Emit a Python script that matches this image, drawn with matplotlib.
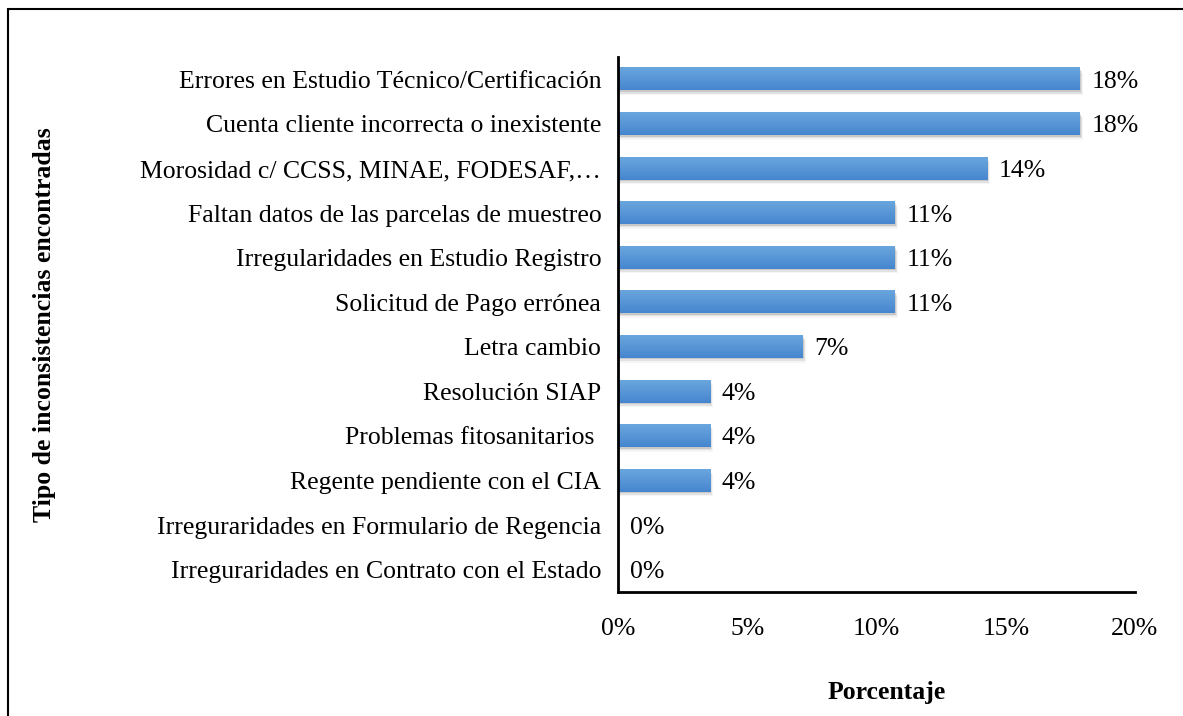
import numpy as np
import matplotlib
matplotlib.use("Agg")
import matplotlib.pyplot as plt
from matplotlib.patches import Rectangle

categories = [
    "Errores en Estudio Técnico/Certificación",
    "Cuenta cliente incorrecta o inexistente",
    "Morosidad c/ CCSS, MINAE, FODESAF,…",
    "Faltan datos de las parcelas de muestreo",
    "Irregularidades en Estudio Registro",
    "Solicitud de Pago errónea",
    "Letra cambio",
    "Resolución SIAP",
    "Problemas fitosanitarios ",
    "Regente pendiente con el CIA",
    "Irreguraridades en Formulario de Regencia",
    "Irreguraridades en Contrato con el Estado",
]
values = [17.86, 17.86, 14.29, 10.71, 10.71, 10.71, 7.14, 3.57, 3.57, 3.57, 0.0, 0.0]
value_labels = ["18%", "18%", "14%", "11%", "11%", "11%", "7%", "4%", "4%", "4%", "0%", "0%"]
xticks = [0, 5, 10, 15, 20]

plt.rcParams['font.family'] = ['Liberation Serif', 'DejaVu Serif']
FS = 18.5

W, H = 1183, 716
fig = plt.figure(figsize=(W / 100, H / 100), dpi=100)
ax = fig.add_axes([618 / W, 1 - 592 / H, (1135 - 618) / W, (592 - 57) / H])

ypos = np.arange(len(categories))
bars = ax.barh(ypos, values, height=0.5, color='none', edgecolor='none', zorder=3)

# gradient fill + soft shadow under each bar
grad = np.linspace(0, 1, 64).reshape(-1, 1)
cmap = matplotlib.colors.LinearSegmentedColormap.from_list("blu", ["#6aa6de", "#4686cf"])
for p in bars.patches:
    x0, y0, w, h = p.get_x(), p.get_y(), p.get_width(), p.get_height()
    if w <= 0:
        continue
    for k, a in enumerate([0.16, 0.10, 0.05]):
        ax.add_patch(Rectangle((x0, y0 + 0.035 * (k + 1)), w + 0.04 * (k + 1), h, facecolor='#444444',
                               edgecolor='none', alpha=a, zorder=2))
    ax.imshow(grad, extent=[x0, x0 + w, y0 + h, y0], aspect='auto', cmap=cmap,
              origin='upper', zorder=4, interpolation='bilinear')

for y, v, lab in zip(ypos, values, value_labels):
    ax.text(v + 0.45, y, lab, va='center_baseline', ha='left', fontsize=FS, zorder=5)

ax.set_ylim(len(categories) - 0.5, -0.5)
ax.set_xlim(0, 20)
ax.set_yticks(ypos)
ax.set_yticklabels(categories, fontsize=FS, va='center_baseline')
ax.set_xticks(xticks)
ax.set_xticklabels([f"{t}%" for t in xticks], fontsize=FS)
ax.tick_params(axis='both', length=0)
ax.tick_params(axis='y', pad=12)
ax.tick_params(axis='x', pad=19)
for s in ['top', 'right']:
    ax.spines[s].set_visible(False)
for s in ['left', 'bottom']:
    ax.spines[s].set_linewidth(2)
    ax.spines[s].set_zorder(6)

fig.text(45 / W, 1 - 325 / H, "Tipo de inconsistencias encontradas", rotation=90,
         ha='center', va='center', fontsize=FS, fontweight='bold')
fig.text(887 / W, 1 - 692 / H, "Porcentaje", ha='center', va='center',
         fontsize=FS, fontweight='bold')

fig.add_artist(Rectangle((8 / W, -0.1), 1.2, 1.1 - 9 / H, transform=fig.transFigure,
                         fill=False, edgecolor='black', linewidth=1.5))

fig.savefig("out.png", dpi=100)
